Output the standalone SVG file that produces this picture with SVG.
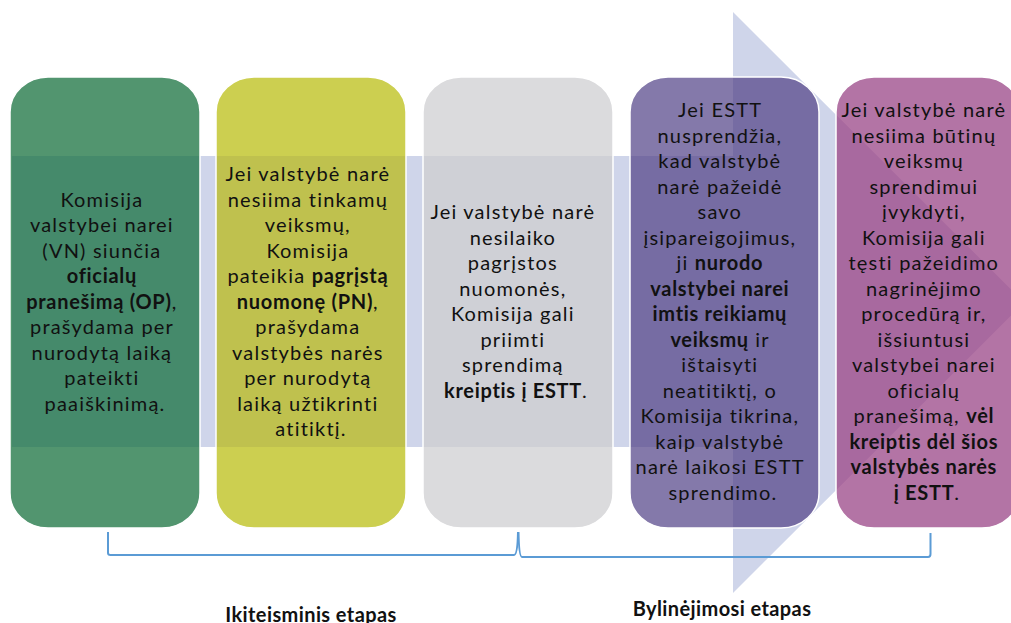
<svg xmlns="http://www.w3.org/2000/svg" xmlns:xlink="http://www.w3.org/1999/xlink" width="1011" height="623" viewBox="0 0 1011 623">
<style>
.t{font-family:Lato,"Liberation Sans",sans-serif;font-size:20px;fill:#111;text-anchor:middle;letter-spacing:1.2px}
.b{font-weight:bold;letter-spacing:0.7px}
.lbl{font-family:Lato,"Liberation Sans",sans-serif;font-size:20px;font-weight:bold;fill:#111;text-anchor:middle;letter-spacing:0.4px}
.edge{fill:none;stroke:#fff;stroke-width:1.5}
.br{fill:none;stroke:#5b9bd5;stroke-width:2}
</style>
<defs>
<path id="arrow" d="M12,156 H733 V12 L1024,302.5 L733,593 V447 H12 Z"/>
<rect id="r1" x="10" y="77" width="190" height="451" rx="38" ry="35"/>
<rect id="r2" x="216" y="77" width="190" height="451" rx="38" ry="35"/>
<rect id="r3" x="423" y="77" width="190" height="451" rx="38" ry="35"/>
<rect id="r4" x="630" y="77" width="189" height="451" rx="38" ry="35"/>
<rect id="r5" x="836" y="77" width="184" height="451" rx="38" ry="35"/>
<clipPath id="c1"><use xlink:href="#r1"/></clipPath>
<clipPath id="c2"><use xlink:href="#r2"/></clipPath>
<clipPath id="c3"><use xlink:href="#r3"/></clipPath>
<clipPath id="c4"><use xlink:href="#r4"/></clipPath>
<clipPath id="c5"><use xlink:href="#r5"/></clipPath>
</defs>
<rect width="1011" height="623" fill="#fff"/>
<use id="bg-arrow" xlink:href="#arrow" fill="#cfd5ea"/>

<g id="n1">
<use xlink:href="#r1" fill="#52956f"/>
<use xlink:href="#arrow" clip-path="url(#c1)" fill="#458a6b"/>
<use xlink:href="#r1" class="edge"/>
<text class="t" y="206.5">
<tspan x="105">Komisija</tspan>
<tspan x="105" dy="25.5">valstybei narei</tspan>
<tspan x="105" dy="25.5">(VN) siunčia</tspan>
<tspan x="105" dy="25.5" class="b">oficialų</tspan>
<tspan x="105" dy="25.5"><tspan class="b">pranešimą (OP)</tspan>,</tspan>
<tspan x="105" dy="25.5">prašydama per</tspan>
<tspan x="105" dy="25.5">nurodytą laiką</tspan>
<tspan x="105" dy="25.5">pateikti</tspan>
<tspan x="105" dy="25.5">paaiškinimą.</tspan>
</text>
</g>

<g id="n2">
<use xlink:href="#r2" fill="#cccf50"/>
<use xlink:href="#arrow" clip-path="url(#c2)" fill="#bfc14e"/>
<use xlink:href="#r2" class="edge"/>
<text class="t" y="181">
<tspan x="311">Jei valstybė narė</tspan>
<tspan x="311" dy="25.5">nesiima tinkamų</tspan>
<tspan x="311" dy="25.5">veiksmų,</tspan>
<tspan x="311" dy="25.5">Komisija</tspan>
<tspan x="311" dy="25.5">pateikia <tspan class="b">pagrįstą</tspan></tspan>
<tspan x="311" dy="25.5"><tspan class="b">nuomonę  (PN)</tspan>,</tspan>
<tspan x="311" dy="25.5">prašydama</tspan>
<tspan x="311" dy="25.5">valstybės narės</tspan>
<tspan x="311" dy="25.5">per nurodytą</tspan>
<tspan x="311" dy="25.5">laiką užtikrinti</tspan>
<tspan x="311" dy="25.5">atitiktį.</tspan>
</text>
</g>

<g id="n3">
<use xlink:href="#r3" fill="#dbdbdd"/>
<use xlink:href="#arrow" clip-path="url(#c3)" fill="#cfd0d6"/>
<use xlink:href="#r3" class="edge"/>
<text class="t" y="219.3">
<tspan x="516">Jei valstybė narė</tspan>
<tspan x="516" dy="25.5">nesilaiko</tspan>
<tspan x="516" dy="25.5">pagrįstos</tspan>
<tspan x="516" dy="25.5">nuomonės,</tspan>
<tspan x="516" dy="25.5">Komisija gali</tspan>
<tspan x="516" dy="25.5">priimti</tspan>
<tspan x="516" dy="25.5">sprendimą</tspan>
<tspan x="516" dy="25.5"><tspan class="b">kreiptis į ESTT</tspan>.</tspan>
</text>
</g>

<g id="n4">
<use xlink:href="#r4" fill="#8479aa"/>
<use xlink:href="#arrow" clip-path="url(#c4)" fill="#766ca3"/>
<use xlink:href="#r4" class="edge"/>
<text class="t" y="117.3">
<tspan x="723">Jei ESTT</tspan>
<tspan x="723" dy="25.5">nusprendžia,</tspan>
<tspan x="723" dy="25.5">kad valstybė</tspan>
<tspan x="723" dy="25.5">narė pažeidė</tspan>
<tspan x="723" dy="25.5">savo</tspan>
<tspan x="723" dy="25.5">įsipareigojimus,</tspan>
<tspan x="723" dy="25.5">ji <tspan class="b">nurodo</tspan></tspan>
<tspan x="723" dy="25.5" class="b">valstybei narei</tspan>
<tspan x="723" dy="25.5" class="b">imtis reikiamų</tspan>
<tspan x="723" dy="25.5"><tspan class="b">veiksmų</tspan> ir</tspan>
<tspan x="723" dy="25.5">ištaisyti</tspan>
<tspan x="723" dy="25.5">neatitiktį, o</tspan>
<tspan x="723" dy="25.5">Komisija tikrina,</tspan>
<tspan x="723" dy="25.5">kaip valstybė</tspan>
<tspan x="723" dy="25.5">narė laikosi ESTT</tspan>
<tspan x="723" dy="25.5">sprendimo.</tspan>
</text>
</g>

<g id="n5">
<use xlink:href="#r5" fill="#b374a5"/>
<use xlink:href="#arrow" clip-path="url(#c5)" fill="#a8699f"/>
<use xlink:href="#r5" class="edge"/>
<text class="t" y="117.3">
<tspan x="927">Jei valstybė narė</tspan>
<tspan x="927" dy="25.5">nesiima būtinų</tspan>
<tspan x="927" dy="25.5">veiksmų</tspan>
<tspan x="927" dy="25.5">sprendimui</tspan>
<tspan x="927" dy="25.5">įvykdyti,</tspan>
<tspan x="927" dy="25.5">Komisija gali</tspan>
<tspan x="927" dy="25.5">tęsti pažeidimo</tspan>
<tspan x="927" dy="25.5">nagrinėjimo</tspan>
<tspan x="927" dy="25.5">procedūrą ir,</tspan>
<tspan x="927" dy="25.5">išsiuntusi</tspan>
<tspan x="927" dy="25.5">valstybei narei</tspan>
<tspan x="927" dy="25.5">oficialų</tspan>
<tspan x="927" dy="25.5">pranešimą, <tspan class="b">vėl</tspan></tspan>
<tspan x="927" dy="25.5" class="b">kreiptis dėl šios</tspan>
<tspan x="927" dy="25.5" class="b">valstybės narės</tspan>
<tspan x="927" dy="25.5"><tspan class="b">į ESTT</tspan>.</tspan>
</text>
</g>

<g id="connectors">
<path class="br" d="M108,532 V553 Q108,555 110.5,555 H514 Q517.5,555 518,532"/>
<path class="br" d="M518.5,532 Q519,557 522,557 H928 Q930.5,557 930.5,554 V533"/>
</g>

<g id="labels">
<text class="lbl" x="311" y="622">Ikiteisminis etapas</text>
<text class="lbl" x="722" y="616">Bylinėjimosi etapas</text>
</g>
</svg>
